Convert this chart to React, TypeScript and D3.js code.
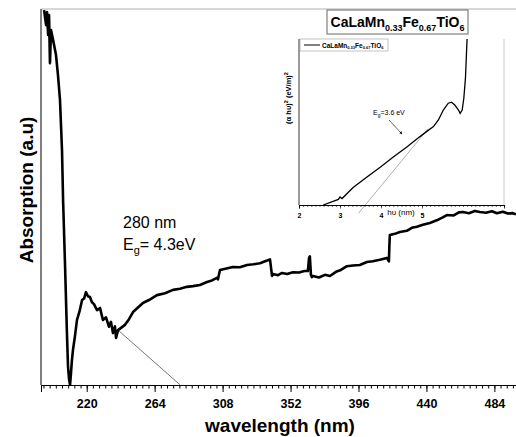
import { useEffect, useRef } from "react";
import * as d3 from "d3";

// main spectrum (wavelength in nm, absorption in arbitrary units)
const wavelength = [
  192.4, 193.7, 194.3, 195.0, 195.6, 196.2, 196.9, 198.2, 199.5, 200.1, 201.4, 202.7,
  204.0, 204.7, 206.0, 207.2, 207.9, 208.6, 209.2, 209.8, 210.4, 211.1, 212.4, 213.7,
  215.3, 217.0, 218.3, 219.5, 220.8, 222.1, 223.4, 224.7, 226.7, 228.6, 230.5, 232.5,
  234.4, 235.7, 237.0, 238.3, 239.0, 240.3, 242.2, 244.8, 247.4, 250.0, 253.2, 256.4,
  260.3, 265.5, 270.7, 275.9, 280.4, 284.9, 288.8, 293.3, 297.9, 301.1, 304.3, 305.0,
  306.3, 310.5, 314.7, 319.2, 323.8, 328.0, 332.2, 335.5, 337.4, 338.7, 340.0, 340.6,
  343.9, 346.5, 349.7, 353.6, 357.5, 361.0, 363.2, 364.0, 364.5, 365.2, 365.8, 366.5,
  370.4, 374.3, 377.5, 381.4, 384.6, 388.5, 392.4, 396.9, 401.4, 405.3, 409.8, 414.4,
  415.7, 416.0, 416.3, 419.5, 422.8, 427.3, 430.5, 433.8, 437.7, 442.2, 446.7, 450.6,
  453.2, 457.7, 461.0, 463.6, 467.5, 471.4, 474.6, 478.5, 482.4, 485.6, 489.5, 492.7,
  495.9, 498.0,
];
const absorption = [
  99.7, 95.7, 99.2, 93.1, 98.4, 85.6, 94.4, 91.8, 89.1, 87.8, 82.4, 75.8,
  62.5, 49.2, 31.4, 13.8, 4.8, 1.5, 0.0, 3.0, 6.5, 9.3, 13.0, 17.3,
  19.5, 22.6, 23.0, 24.7, 23.6, 23.4, 22.0, 21.5, 19.9, 20.5, 17.3, 18.0,
  15.5, 16.8, 13.8, 15.6, 12.5, 14.6, 15.2, 16.0, 17.5, 19.4, 20.6, 21.8,
  22.6, 23.9, 24.4, 25.3, 25.6, 26.1, 26.3, 26.6, 27.4, 27.8, 28.5, 28.1,
  30.6, 31.0, 31.4, 31.3, 31.9, 32.1, 32.4, 32.9, 33.2, 33.4, 29.0, 29.5,
  29.2, 29.8, 29.5, 30.0, 29.9, 30.3, 30.3, 33.8, 34.2, 29.3, 28.7, 29.0,
  28.6, 29.3, 29.0, 30.1, 30.6, 31.6, 31.8, 31.9, 32.7, 32.9, 33.3, 33.8,
  32.9, 37.0, 39.9, 40.2, 40.7, 41.0, 41.8, 42.1, 42.6, 43.1, 43.8, 44.6,
  45.2, 45.1, 45.9, 46.0, 45.7, 46.3, 46.0, 45.8, 46.2, 45.7, 46.1, 45.6,
  45.7, 45.4,
];
const xTicks = [220, 264, 308, 352, 396, 440, 484];

// inset: (alpha h nu)^2 against photon energy
const energy = [
  2.59, 2.96, 3.0, 3.05, 3.32, 3.65, 3.98, 4.3, 4.63, 4.95, 5.11, 5.28,
  5.4, 5.52, 5.64, 5.72, 5.8, 5.89, 5.93, 5.98, 6.02, 6.06, 6.08, 6.1, 6.11,
];
const tauc = [
  0, 3.4, 4.8, 3.9, 10.5, 16.7, 22.7, 28.9, 34.9, 41.2, 44.2, 47.2,
  51.2, 57.2, 61.3, 61.9, 60.2, 57.2, 55.2, 57.2, 64.3, 76.4, 88.4, 100.4, 104,
];
const insetTicks = [2, 3, 4, 5];

const FONT = "Arial, 'Liberation Sans', sans-serif";

const App = () => {
  const svgRef = useRef<SVGSVGElement>(null);

  useEffect(() => {
    const svg = d3.select(svgRef.current);
    svg.selectAll("*").remove();

    const x = d3.scaleLinear().domain([190.4, 498]).range([41, 516]);
    const y = d3.scaleLinear().domain([0, 100]).range([385, 9]);

    svg.append("defs")
      .append("clipPath").attr("id", "mainClip")
      .append("rect").attr("x", 41).attr("y", 9).attr("width", 475).attr("height", 376);

    // top frame line
    svg.append("line")
      .attr("x1", 41).attr("x2", 516).attr("y1", 9).attr("y2", 9)
      .attr("stroke", "#b0b0b0").attr("stroke-width", 1);

    // tangent for the band edge
    svg.append("line")
      .attr("x1", x(240.3)).attr("y1", y(14.6))
      .attr("x2", x(280.6)).attr("y2", y(0))
      .attr("stroke", "#555").attr("stroke-width", 0.8);

    const line = d3.line<number>()
      .x((_, i) => x(wavelength[i]))
      .y((d) => y(d));

    svg.append("path")
      .datum(absorption)
      .attr("clip-path", "url(#mainClip)")
      .attr("d", line)
      .attr("fill", "none")
      .attr("stroke", "#000")
      .attr("stroke-width", 2.6)
      .attr("stroke-linejoin", "round");

    // x axis with minor ticks every 4 nm
    const gx = svg.append("g").attr("transform", "translate(0,385)");
    gx.call(d3.axisBottom(x).tickValues(d3.range(192, 498, 4)).tickSize(3.5).tickFormat(() => ""));
    gx.append("g").call(
      d3.axisBottom(x).tickValues(xTicks).tickSize(7).tickFormat(d3.format("d"))
    );
    gx.selectAll(".domain").attr("stroke", "#000");
    gx.selectAll("line").attr("stroke", "#000");
    gx.selectAll("text")
      .attr("font-family", FONT).attr("font-size", 12.5).attr("font-weight", "bold")
      .attr("fill", "#000").attr("dy", "1.05em");

    // y axis (no labels)
    svg.append("line")
      .attr("x1", 41).attr("x2", 41).attr("y1", 9).attr("y2", 385)
      .attr("stroke", "#000");

    svg.append("text")
      .attr("x", 280).attr("y", 432)
      .attr("text-anchor", "middle")
      .attr("font-family", FONT).attr("font-size", 19).attr("font-weight", "bold")
      .text("wavelength (nm)");

    svg.append("text")
      .attr("transform", "translate(33,190) rotate(-90)")
      .attr("text-anchor", "middle")
      .attr("font-family", FONT).attr("font-size", 19).attr("font-weight", "bold")
      .text("Absorption (a.u)");

    // annotation
    svg.append("text")
      .attr("x", 123).attr("y", 228)
      .attr("font-family", FONT).attr("font-size", 16)
      .text("280 nm");
    const eg = svg.append("text")
      .attr("x", 123).attr("y", 250)
      .attr("font-family", FONT).attr("font-size", 16);
    eg.append("tspan").text("E");
    eg.append("tspan").attr("font-size", 11).attr("dy", 4).text("g");
    eg.append("tspan").attr("dy", -4).text("= 4.3eV");

    // ---- inset ----
    const xi = d3.scaleLinear().domain([2, 7]).range([299, 504]);
    const yi = d3.scaleLinear().domain([0, 100]).range([205, 39]);

    svg.append("defs")
      .append("clipPath").attr("id", "insetClip")
      .append("rect").attr("x", 299).attr("y", 39).attr("width", 205).attr("height", 166);

    svg.append("line")
      .attr("x1", 504).attr("x2", 504).attr("y1", 39).attr("y2", 205)
      .attr("stroke", "#c8c8c8");

    svg.append("line")
      .attr("x1", xi(3.45)).attr("y1", yi(-5))
      .attr("x2", xi(5.15)).attr("y2", yi(46))
      .attr("stroke", "#777").attr("stroke-width", 0.6);

    const insetLine = d3.line<number>()
      .x((_, i) => xi(energy[i]))
      .y((d) => yi(d));
    svg.append("path")
      .datum(tauc)
      .attr("clip-path", "url(#insetClip)")
      .attr("d", insetLine)
      .attr("fill", "none")
      .attr("stroke", "#000")
      .attr("stroke-width", 1.3);

    const gi = svg.append("g").attr("transform", "translate(0,205)");
    gi.call(d3.axisBottom(xi).tickValues(d3.range(2, 7.01, 0.1)).tickSize(2).tickFormat(() => ""));
    gi.append("g").call(d3.axisBottom(xi).tickValues(insetTicks).tickSize(3.5).tickFormat(d3.format("d")));
    gi.selectAll(".domain").attr("stroke", "#000").attr("stroke-width", 0.8);
    gi.selectAll("line").attr("stroke", "#000").attr("stroke-width", 0.6);
    gi.selectAll("text")
      .attr("font-family", FONT).attr("font-size", 7).attr("font-weight", "bold")
      .attr("fill", "#000").attr("dy", "0.9em");

    svg.append("line")
      .attr("x1", 299).attr("x2", 299).attr("y1", 39).attr("y2", 205)
      .attr("stroke", "#000").attr("stroke-width", 0.8);

    svg.append("text")
      .attr("x", 401).attr("y", 215)
      .attr("text-anchor", "middle")
      .attr("font-family", FONT).attr("font-size", 8)
      .text("h\u03c5 (nm)");

    const yl = svg.append("text")
      .attr("transform", "translate(291,98) rotate(-90)")
      .attr("text-anchor", "middle")
      .attr("font-family", FONT).attr("font-size", 7.5).attr("font-weight", "bold");
    yl.append("tspan").text("(\u03b1 h\u03c5)");
    yl.append("tspan").attr("font-size", 5.5).attr("dy", -3).text("2");
    yl.append("tspan").attr("dy", 3).text(" (eV/m)");
    yl.append("tspan").attr("font-size", 5.5).attr("dy", -3).text("2");

    // Eg arrow
    svg.append("defs").append("marker")
      .attr("id", "arrow").attr("viewBox", "0 0 10 10")
      .attr("refX", 9).attr("refY", 5)
      .attr("markerWidth", 5).attr("markerHeight", 5)
      .attr("orient", "auto")
      .append("path").attr("d", "M0,0L10,5L0,10z").attr("fill", "#000");
    svg.append("line")
      .attr("x1", 389).attr("y1", 120).attr("x2", 402).attr("y2", 134)
      .attr("stroke", "#000").attr("stroke-width", 0.6)
      .attr("marker-end", "url(#arrow)");
    const egi = svg.append("text")
      .attr("x", 373).attr("y", 115)
      .attr("font-family", FONT).attr("font-size", 7);
    egi.append("tspan").text("E");
    egi.append("tspan").attr("font-size", 5).attr("dy", 2).text("g");
    egi.append("tspan").attr("dy", -2).text("=3.6 eV");

    // inset legend
    svg.append("rect")
      .attr("x", 300).attr("y", 39).attr("width", 88).attr("height", 12)
      .attr("fill", "#fff").attr("stroke", "#999").attr("stroke-width", 0.6);
    svg.append("line")
      .attr("x1", 304).attr("x2", 320).attr("y1", 45).attr("y2", 45)
      .attr("stroke", "#000").attr("stroke-width", 1);
    const lg = svg.append("text")
      .attr("x", 322).attr("y", 47.5)
      .attr("font-family", FONT).attr("font-size", 6.5).attr("font-weight", "bold");
    lg.append("tspan").text("CaLaMn");
    lg.append("tspan").attr("font-size", 4).attr("dy", 1.5).text("0.33");
    lg.append("tspan").attr("dy", -1.5).text("Fe");
    lg.append("tspan").attr("font-size", 4).attr("dy", 1.5).text("0.67");
    lg.append("tspan").attr("dy", -1.5).text("TiO");
    lg.append("tspan").attr("font-size", 4).attr("dy", 1.5).text("6");

    // inset title box
    svg.append("rect")
      .attr("x", 327).attr("y", 10).attr("width", 141).attr("height", 24)
      .attr("fill", "#fff").attr("stroke", "#666").attr("stroke-width", 1);
    const tt = svg.append("text")
      .attr("x", 397.5).attr("y", 27)
      .attr("text-anchor", "middle")
      .attr("font-family", FONT).attr("font-size", 14).attr("font-weight", "bold");
    tt.append("tspan").text("CaLaMn");
    tt.append("tspan").attr("font-size", 9).attr("dy", 4).text("0.33");
    tt.append("tspan").attr("dy", -4).text("Fe");
    tt.append("tspan").attr("font-size", 9).attr("dy", 4).text("0.67");
    tt.append("tspan").attr("dy", -4).text("TiO");
    tt.append("tspan").attr("font-size", 9).attr("dy", 4).text("6");
  }, []);

  return (
    <svg
      ref={svgRef}
      width={516}
      height={437}
      style={{ position: "absolute", left: 0, top: 0, background: "#fff", display: "block" }}
    />
  );
};

export default App;
